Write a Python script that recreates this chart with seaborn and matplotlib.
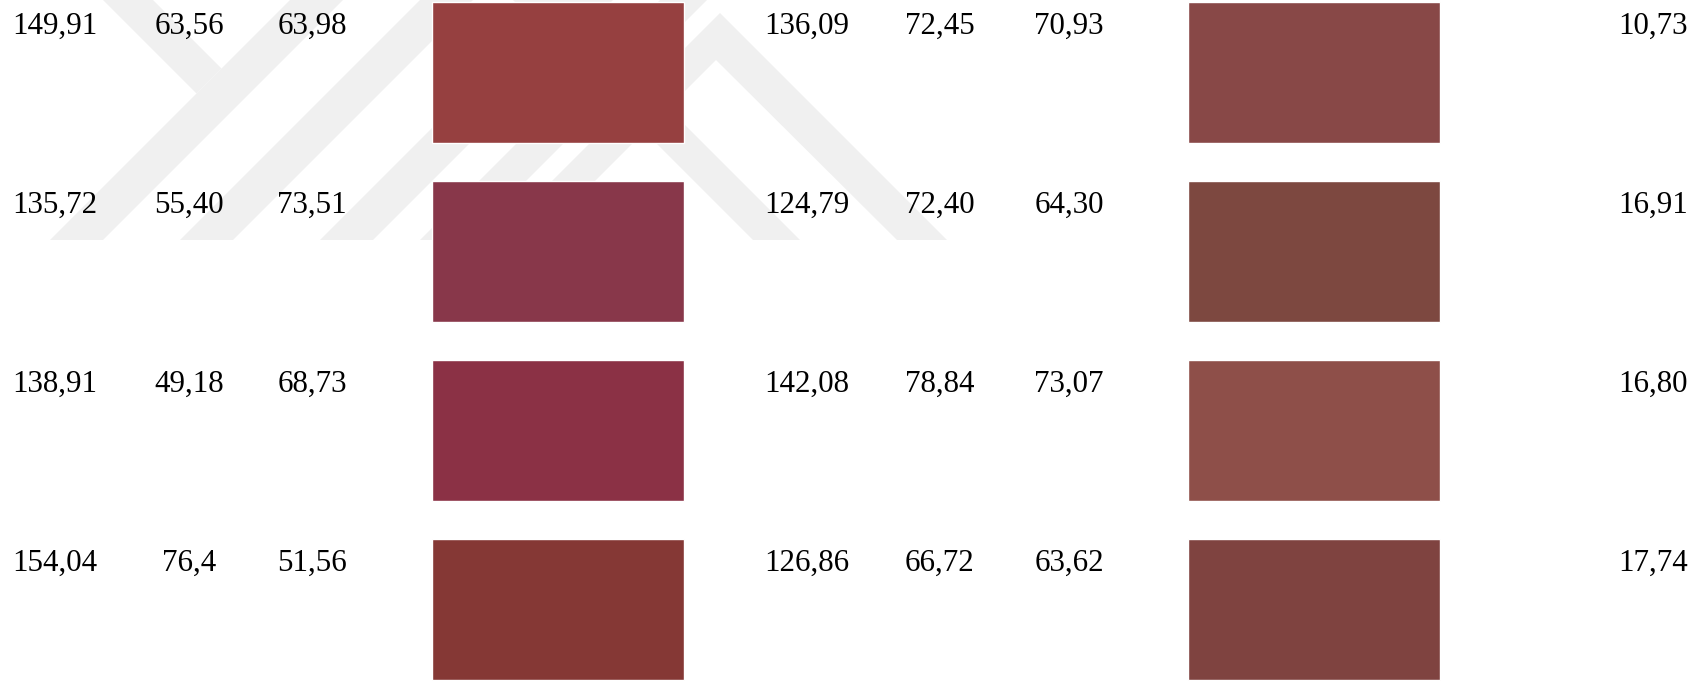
import numpy as np
import pandas as pd
import matplotlib
matplotlib.use('Agg')
import matplotlib.pyplot as plt
import seaborn as sns
from matplotlib.patches import Polygon

# Values (as printed in the table)
r1 = ['149,91', '135,72', '138,91', '154,04']
g1 = ['63,56', '55,40', '49,18', '76,4']
b1 = ['63,98', '73,51', '68,73', '51,56']
swatch1 = ['#964040', '#88374A', '#8B3145', '#853835']

r2 = ['136,09', '124,79', '142,08', '126,86']
g2 = ['72,45', '72,40', '78,84', '66,72']
b2 = ['70,93', '64,30', '73,07', '63,62']
swatch2 = ['#884847', '#7D4840', '#8E4F49', '#7F4340']

delta_e = ['10,73', '16,91', '16,80', '17,74']

sns.set_theme(style='white')
plt.rcParams['font.family'] = ['Liberation Serif', 'DejaVu Serif']

W, H = 1706, 681
fig = plt.figure(figsize=(W / 100, H / 100), dpi=100)
ax = fig.add_axes([0, 0, 1, 1])
ax.set_xlim(0, W)
ax.set_ylim(H, 0)
ax.axis('off')

# faint watermark in the background (diagonal stripes)
wm = '#f0f0f0'
shapes = [
    [(103, 0), (153, 0), (221.5, 68.5), (196.5, 93.5)],
    [(50, 240), (103, 240), (343, 0), (290, 0)],
    [(180, 240), (233, 240), (473, 0), (420, 0)],
    [(320, 240), (373, 240), (613, 0), (560, 0)],
    [(420, 240), (467, 240), (707, 0), (660, 0)],
    [(493, 240), (536, 240), (716, 60), (897, 240), (947, 240), (720, 13)],
    [(513, 0), (560, 0), (800, 240), (753, 240)],
]
for s in shapes:
    ax.add_patch(Polygon(s, closed=True, facecolor=wm, edgecolor='none', zorder=0))

n = len(r1)
pitch = 179
sw_h = 141
tops = 2 + pitch * np.arange(n)

# colour swatches
ax.barh(tops + sw_h / 2, 252, left=432, height=sw_h, color=swatch1, zorder=2)
ax.barh(tops + sw_h / 2, 252, left=1188, height=sw_h, color=swatch2, zorder=2)

cols = [(55, r1), (189, g1), (312, b1), (807, r2), (940, g2), (1069, b2), (1653, delta_e)]
for x, vals in cols:
    for i, v in enumerate(vals):
        ax.text(x, tops[i] + 32, v, ha='center', va='baseline',
                fontsize=22.3, color='black', zorder=3)

fig.savefig('out.png', dpi=100, facecolor='white')
